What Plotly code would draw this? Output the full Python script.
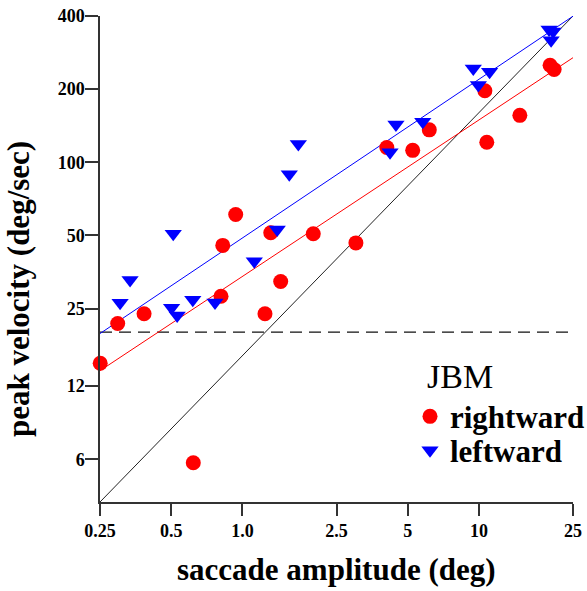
import numpy as np
import plotly.graph_objects as go

# ---- data ----
right_amp = [0.2505, 0.297, 0.384, 0.62, 0.812, 0.826, 0.937, 1.246, 1.318, 1.452,
             1.994, 3.02, 4.08, 5.25, 6.17, 10.6, 10.8, 14.9, 20.0, 20.8]
right_vel = [14.9, 21.7, 23.8, 5.8, 28.1, 45.5, 61.0, 23.8, 51.3, 32.3,
             50.8, 46.6, 115, 112, 136, 197, 121, 156, 251, 241]

left_amp = [0.304, 0.335, 0.502, 0.51, 0.53, 0.617, 0.766, 1.123, 1.404, 1.579,
            1.724, 4.21, 4.46, 5.79, 9.47, 9.95, 11.1, 19.8, 20.6, 20.2]
left_vel = [26.4, 32.8, 25.2, 50.8, 23.4, 27.2, 26.5, 39.2, 52.9, 89.3,
            119, 110, 143, 147, 243, 208, 236, 352, 345, 318]

# power-law fits v = a * A^b
right_fit = (33.9, 0.644)
left_fit = (48.8, 0.653)
unity_gain = 16.0          # reference line v = 16 * A
threshold_vel = 20.0       # dashed threshold
amp_range = [0.25, 25]
vel_range = [4, 400]

x_tickvals = [0.25, 0.5, 1.0, 2.5, 5, 10, 25]
x_ticktext = ["0.25", "0.5", "1.0", "2.5", "5", "10", "25"]
y_tickvals = [6, 12, 25, 50, 100, 200, 400]
y_ticktext = ["6", "12", "25", "50", "100", "200", "400"]

FONT = "Liberation Serif"

fit_x = np.geomspace(amp_range[0], amp_range[1], 60)

fig = go.Figure()

# lines
fig.add_trace(go.Scatter(x=fit_x, y=unity_gain * fit_x, mode="lines",
                         line=dict(color="#222222", width=1), showlegend=False,
                         hoverinfo="skip"))
fig.add_trace(go.Scatter(x=amp_range, y=[threshold_vel, threshold_vel], mode="lines",
                         line=dict(color="#111111", width=1.2, dash="12px,7px"),
                         showlegend=False, hoverinfo="skip"))
fig.add_trace(go.Scatter(x=fit_x, y=right_fit[0] * fit_x ** right_fit[1], mode="lines",
                         line=dict(color="#ff0000", width=1), showlegend=False,
                         hoverinfo="skip"))
fig.add_trace(go.Scatter(x=fit_x, y=left_fit[0] * fit_x ** left_fit[1], mode="lines",
                         line=dict(color="#0000ff", width=1), showlegend=False,
                         hoverinfo="skip"))

# points
fig.add_trace(go.Scatter(x=right_amp, y=right_vel, mode="markers", name="rightward",
                         marker=dict(symbol="circle", size=15, color="#ff0000",
                                     line=dict(width=0)),
                         cliponaxis=False, legend="legend"))
fig.add_trace(go.Scatter(x=left_amp, y=left_vel, mode="markers", name="leftward",
                         marker=dict(symbol="triangle-down", size=15, color="#0000ff",
                                     line=dict(width=0)),
                         cliponaxis=False, legend="legend2"))

W, H = 587, 591
ml, mr, mt, mb = 100, 14, 16, 89
pw, ph = W - ml - mr, H - mt - mb


def px_x(p):
    return (p - ml) / pw


def px_y(p):
    return (H - mb - p) / ph


legend_font = dict(family=FONT, size=31, color="black", weight="bold")
title_font = dict(family=FONT, size=31, color="black", weight="bold")
tick_font = dict(family=FONT, size=18, color="black", weight="bold")

axis_common = dict(type="log", showgrid=False, zeroline=False, showline=True,
                   linecolor="#333333", linewidth=1.5, ticks="outside",
                   tickwidth=1.5, tickcolor="#333333", tickfont=tick_font,
                   automargin=False)

fig.update_layout(
    width=W, height=H,
    margin=dict(l=ml, r=mr, t=mt, b=mb, autoexpand=False),
    paper_bgcolor="white", plot_bgcolor="white",
    xaxis=dict(range=[np.log10(amp_range[0]), np.log10(amp_range[1])],
               ticklen=12, tickvals=x_tickvals, ticktext=x_ticktext, **axis_common),
    yaxis=dict(range=[np.log10(vel_range[0]), np.log10(vel_range[1])],
               ticklen=13, tickvals=y_tickvals, ticktext=y_ticktext,
               ticklabelstandoff=-3, **axis_common),
    legend=dict(xref="container", yref="container", x=410 / W, y=1 - 416.7 / H,
                xanchor="left", yanchor="middle",
                font=legend_font, bgcolor="rgba(0,0,0,0)", itemsizing="trace"),
    legend2=dict(xref="container", yref="container", x=410 / W, y=1 - 450.7 / H,
                 xanchor="left", yanchor="middle",
                 font=legend_font, bgcolor="rgba(0,0,0,0)", itemsizing="trace"),
    annotations=[
        dict(text="peak velocity (deg/sec)", textangle=-90, xref="paper", yref="paper",
             x=px_x(18), y=px_y(289), xanchor="center", yanchor="middle",
             showarrow=False, font=title_font),
        dict(text="saccade amplitude (deg)", xref="paper", yref="paper",
             x=px_x(336.5), y=px_y(569), xanchor="center", yanchor="middle",
             showarrow=False, font=title_font),
        dict(text="JBM", xref="paper", yref="paper", x=px_x(425), y=px_y(376.7),
             xanchor="left", yanchor="middle", showarrow=False,
             font=dict(family=FONT, size=34, color="black")),
    ],
)

fig.write_html("out.html", config={"responsive": False, "displayModeBar": False},
               post_script="document.body.style.margin='0';")
